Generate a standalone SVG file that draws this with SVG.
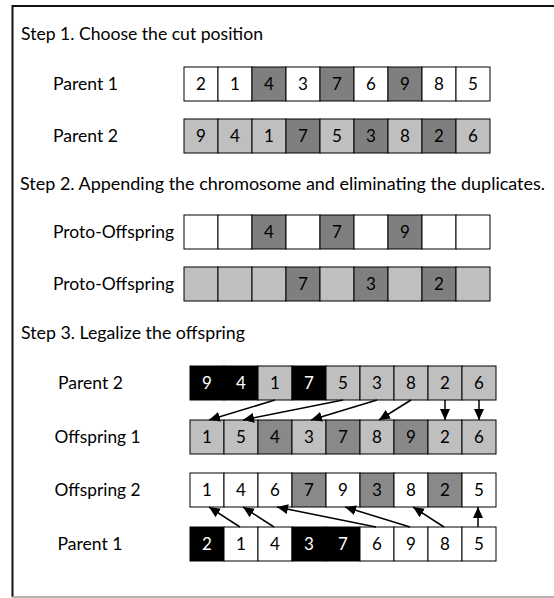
<svg xmlns="http://www.w3.org/2000/svg" width="554" height="598" viewBox="0 0 554 598">
<defs>
<style>
.c{stroke:#000;stroke-width:1}
.w{fill:#fff}
.l{fill:#bfbfbf}
.d{fill:#7f7f7f}
.e{fill:#898989}
.k{fill:#000}
text{font-family:Lato,"Liberation Sans",sans-serif;font-size:17px;fill:#000}
.n{text-anchor:middle}
.wt{fill:#fff}
.a{stroke:#000;stroke-width:1.5;fill:none;marker-end:url(#ah)}
</style>
<marker id="ah" markerUnits="userSpaceOnUse" markerWidth="12" markerHeight="10" refX="11" refY="5" orient="auto" viewBox="0 0 12 10">
<path d="M0,0 L11,5 L0,10 Z" fill="#000"/>
</marker>
</defs>
<rect width="554" height="598" fill="#fff"/>
<g id="frame">
<line x1="12" y1="6" x2="554" y2="6" stroke="#111" stroke-width="2"/>
<line x1="12.5" y1="5" x2="12.5" y2="597" stroke="#111" stroke-width="2"/>
<line x1="12" y1="597" x2="554" y2="597" stroke="#999" stroke-width="1.5"/>
</g>
<g id="headings">
<text x="21" y="40" textLength="242" lengthAdjust="spacingAndGlyphs">Step 1. Choose the cut position</text>
<text x="20" y="190" textLength="525" lengthAdjust="spacingAndGlyphs">Step 2. Appending the chromosome and eliminating the duplicates.</text>
<text x="21" y="339" textLength="224" lengthAdjust="spacingAndGlyphs">Step 3. Legalize the offspring</text>
</g>
<g id="step1-parent1">
<text x="53" y="90" textLength="65" lengthAdjust="spacingAndGlyphs">Parent 1</text>
<rect class="c w" x="184" y="67" width="34" height="34"/><rect class="c w" x="218" y="67" width="34" height="34"/><rect class="c d" x="252" y="67" width="34" height="34"/><rect class="c w" x="286" y="67" width="34" height="34"/><rect class="c d" x="320" y="67" width="34" height="34"/><rect class="c w" x="354" y="67" width="34" height="34"/><rect class="c d" x="388" y="67" width="34" height="34"/><rect class="c w" x="422" y="67" width="34" height="34"/><rect class="c w" x="456" y="67" width="34" height="34"/>
<text class="n" x="201" y="90">2</text><text class="n" x="235" y="90">1</text><text class="n" x="269" y="90">4</text><text class="n" x="303" y="90">3</text><text class="n" x="337" y="90">7</text><text class="n" x="371" y="90">6</text><text class="n" x="405" y="90">9</text><text class="n" x="439" y="90">8</text><text class="n" x="473" y="90">5</text>
</g>
<g id="step1-parent2">
<text x="53" y="142" textLength="65" lengthAdjust="spacingAndGlyphs">Parent 2</text>
<rect class="c l" x="184" y="119" width="34" height="34"/><rect class="c l" x="218" y="119" width="34" height="34"/><rect class="c l" x="252" y="119" width="34" height="34"/><rect class="c d" x="286" y="119" width="34" height="34"/><rect class="c l" x="320" y="119" width="34" height="34"/><rect class="c d" x="354" y="119" width="34" height="34"/><rect class="c l" x="388" y="119" width="34" height="34"/><rect class="c d" x="422" y="119" width="34" height="34"/><rect class="c l" x="456" y="119" width="34" height="34"/>
<text class="n" x="201" y="142">9</text><text class="n" x="235" y="142">4</text><text class="n" x="269" y="142">1</text><text class="n" x="303" y="142">7</text><text class="n" x="337" y="142">5</text><text class="n" x="371" y="142">3</text><text class="n" x="405" y="142">8</text><text class="n" x="439" y="142">2</text><text class="n" x="473" y="142">6</text>
</g>
<g id="step2-proto1">
<text x="53" y="238" textLength="121" lengthAdjust="spacingAndGlyphs">Proto-Offspring</text>
<rect class="c w" x="184" y="215" width="34" height="34"/><rect class="c w" x="218" y="215" width="34" height="34"/><rect class="c d" x="252" y="215" width="34" height="34"/><rect class="c w" x="286" y="215" width="34" height="34"/><rect class="c d" x="320" y="215" width="34" height="34"/><rect class="c w" x="354" y="215" width="34" height="34"/><rect class="c d" x="388" y="215" width="34" height="34"/><rect class="c w" x="422" y="215" width="34" height="34"/><rect class="c w" x="456" y="215" width="34" height="34"/>
<text class="n" x="269" y="238">4</text><text class="n" x="337" y="238">7</text><text class="n" x="405" y="238">9</text>
</g>
<g id="step2-proto2">
<text x="53" y="290" textLength="121" lengthAdjust="spacingAndGlyphs">Proto-Offspring</text>
<rect class="c l" x="184" y="267" width="34" height="34"/><rect class="c l" x="218" y="267" width="34" height="34"/><rect class="c l" x="252" y="267" width="34" height="34"/><rect class="c d" x="286" y="267" width="34" height="34"/><rect class="c l" x="320" y="267" width="34" height="34"/><rect class="c d" x="354" y="267" width="34" height="34"/><rect class="c l" x="388" y="267" width="34" height="34"/><rect class="c d" x="422" y="267" width="34" height="34"/><rect class="c l" x="456" y="267" width="34" height="34"/>
<text class="n" x="303" y="290">7</text><text class="n" x="371" y="290">3</text><text class="n" x="439" y="290">2</text>
</g>
<g id="step3-parent2">
<text x="58" y="389" textLength="65" lengthAdjust="spacingAndGlyphs">Parent 2</text>
<rect class="c k" x="190" y="366" width="34" height="34"/><rect class="c k" x="224" y="366" width="34" height="34"/><rect class="c l" x="258" y="366" width="34" height="34"/><rect class="c k" x="292" y="366" width="34" height="34"/><rect class="c l" x="326" y="366" width="34" height="34"/><rect class="c l" x="360" y="366" width="34" height="34"/><rect class="c l" x="394" y="366" width="34" height="34"/><rect class="c l" x="428" y="366" width="34" height="34"/><rect class="c l" x="462" y="366" width="34" height="34"/>
<text class="n wt" x="207" y="389">9</text><text class="n wt" x="241" y="389">4</text><text class="n" x="275" y="389">1</text><text class="n wt" x="309" y="389">7</text><text class="n" x="343" y="389">5</text><text class="n" x="377" y="389">3</text><text class="n" x="411" y="389">8</text><text class="n" x="445" y="389">2</text><text class="n" x="479" y="389">6</text>
</g>
<g id="step3-offspring1">
<text x="54.5" y="443" textLength="86" lengthAdjust="spacingAndGlyphs">Offspring 1</text>
<rect class="c l" x="190" y="420" width="34" height="34"/><rect class="c l" x="224" y="420" width="34" height="34"/><rect class="c e" x="258" y="420" width="34" height="34"/><rect class="c l" x="292" y="420" width="34" height="34"/><rect class="c e" x="326" y="420" width="34" height="34"/><rect class="c l" x="360" y="420" width="34" height="34"/><rect class="c e" x="394" y="420" width="34" height="34"/><rect class="c l" x="428" y="420" width="34" height="34"/><rect class="c l" x="462" y="420" width="34" height="34"/>
<text class="n" x="207" y="443">1</text><text class="n" x="241" y="443">5</text><text class="n" x="275" y="443">4</text><text class="n" x="309" y="443">3</text><text class="n" x="343" y="443">7</text><text class="n" x="377" y="443">8</text><text class="n" x="411" y="443">9</text><text class="n" x="445" y="443">2</text><text class="n" x="479" y="443">6</text>
</g>
<g id="step3-offspring2">
<text x="54.5" y="496" textLength="86" lengthAdjust="spacingAndGlyphs">Offspring 2</text>
<rect class="c w" x="190" y="473" width="34" height="34"/><rect class="c w" x="224" y="473" width="34" height="34"/><rect class="c w" x="258" y="473" width="34" height="34"/><rect class="c e" x="292" y="473" width="34" height="34"/><rect class="c w" x="326" y="473" width="34" height="34"/><rect class="c e" x="360" y="473" width="34" height="34"/><rect class="c w" x="394" y="473" width="34" height="34"/><rect class="c e" x="428" y="473" width="34" height="34"/><rect class="c w" x="462" y="473" width="34" height="34"/>
<text class="n" x="207" y="496">1</text><text class="n" x="241" y="496">4</text><text class="n" x="275" y="496">6</text><text class="n" x="309" y="496">7</text><text class="n" x="343" y="496">9</text><text class="n" x="377" y="496">3</text><text class="n" x="411" y="496">8</text><text class="n" x="445" y="496">2</text><text class="n" x="479" y="496">5</text>
</g>
<g id="step3-parent1">
<text x="57.5" y="550" textLength="65" lengthAdjust="spacingAndGlyphs">Parent 1</text>
<rect class="c k" x="190" y="527" width="34" height="34"/><rect class="c w" x="224" y="527" width="34" height="34"/><rect class="c w" x="258" y="527" width="34" height="34"/><rect class="c k" x="292" y="527" width="34" height="34"/><rect class="c k" x="326" y="527" width="34" height="34"/><rect class="c w" x="360" y="527" width="34" height="34"/><rect class="c w" x="394" y="527" width="34" height="34"/><rect class="c w" x="428" y="527" width="34" height="34"/><rect class="c w" x="462" y="527" width="34" height="34"/>
<text class="n wt" x="207" y="550">2</text><text class="n" x="241" y="550">1</text><text class="n" x="275" y="550">4</text><text class="n wt" x="309" y="550">3</text><text class="n wt" x="343" y="550">7</text><text class="n" x="377" y="550">6</text><text class="n" x="411" y="550">9</text><text class="n" x="445" y="550">8</text><text class="n" x="479" y="550">5</text>
</g>
<g id="connectors">
<line class="a" x1="275" y1="400" x2="209" y2="420"/>
<line class="a" x1="343" y1="400" x2="243" y2="420"/>
<line class="a" x1="377" y1="400" x2="311" y2="420"/>
<line class="a" x1="411" y1="400" x2="379" y2="420"/>
<line class="a" x1="445" y1="400" x2="445" y2="420"/>
<line class="a" x1="479" y1="400" x2="479" y2="420"/>
<line class="a" x1="240" y1="527" x2="209" y2="507"/>
<line class="a" x1="274" y1="527" x2="243" y2="507"/>
<line class="a" x1="376" y1="527" x2="277" y2="507"/>
<line class="a" x1="410" y1="527" x2="345" y2="507"/>
<line class="a" x1="444" y1="527" x2="413" y2="507"/>
<line class="a" x1="478" y1="527" x2="478" y2="507"/>
</g>
</svg>
